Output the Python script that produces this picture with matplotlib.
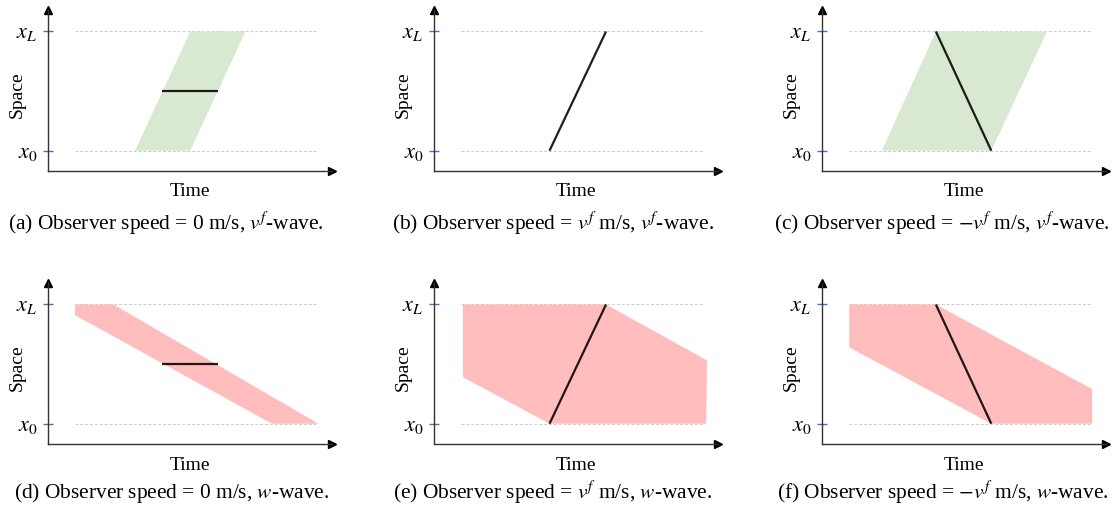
import numpy as np
import matplotlib
matplotlib.use('Agg')
import matplotlib.pyplot as plt

plt.rcParams['font.family'] = 'serif'
plt.rcParams['font.serif'] = ['Liberation Serif', 'DejaVu Serif']
plt.rcParams['mathtext.fontset'] = 'stix'

# space axis ticks
space_ticks = [0, 1]
space_labels = ['$x_0$', '$x_L$']

# observer trajectories (time, space)
obs_a_t = [4.22, 6.28]
obs_a_s = [0.5, 0.5]
obs_b_t = [4.27, 6.36]
obs_b_s = [0, 1]
obs_c_t = [4.21, 6.26]
obs_c_s = [1, 0]
obs_d_t = [4.21, 6.28]
obs_d_s = [0.5, 0.5]
obs_e_t = [4.27, 6.36]
obs_e_s = [0, 1]
obs_f_t = [4.21, 6.26]
obs_f_s = [1, 0]

# shaded regions, polygon corners (time, space)
zone_a_t = [3.22, 5.26, 7.30, 5.26]
zone_a_s = [0, 0, 1, 1]
zone_c_t = [2.21, 6.26, 8.32, 4.21]
zone_c_s = [0, 0, 1, 1]
zone_d_t = [1.0, 2.42, 10.0, 8.28, 1.0]
zone_d_s = [1, 1, 0, 0, 0.91]
zone_e_t = [1.07, 6.36, 10.1, 10.06, 4.27, 1.07]
zone_e_s = [1, 1, 0.53, 0, 0, 0.39]
zone_f_t = [1.01, 4.21, 9.99, 9.99, 6.26, 1.01]
zone_f_s = [1, 1, 0.29, 0, 0, 0.64]

captions = ['(a) Observer speed = 0 m/s, $v^f$-wave.',
            '(b) Observer speed = $v^f$ m/s, $v^f$-wave.',
            '(c) Observer speed = $-v^f$ m/s, $v^f$-wave.',
            '(d) Observer speed = 0 m/s, $w$-wave.',
            '(e) Observer speed = $v^f$ m/s, $w$-wave.',
            '(f) Observer speed = $-v^f$ m/s, $w$-wave.']

green = '#d9e8d1'
pink = '#ffbdbd'

panels = [
    (obs_a_t, obs_a_s, zone_a_t, zone_a_s, green),
    (obs_b_t, obs_b_s, None, None, None),
    (obs_c_t, obs_c_s, zone_c_t, zone_c_s, green),
    (obs_d_t, obs_d_s, zone_d_t, zone_d_s, pink),
    (obs_e_t, obs_e_s, zone_e_t, zone_e_s, pink),
    (obs_f_t, obs_f_s, zone_f_t, zone_f_s, pink),
]

W, H = 1117, 512
fig = plt.figure(figsize=(W / 100, H / 100), dpi=100)

ax_left = [48, 434, 822]
ax_bottom = [171, 444]
ax_w, ax_h = 284, 161
cap_x = [166, 553, 942, 172, 553, 943]
cap_y = [224, 493]

for i, (ot, os_, zt, zs, col) in enumerate(panels):
    r, c = divmod(i, 3)
    ax = fig.add_axes([ax_left[c] / W, (H - ax_bottom[r]) / H,
                       ax_w / W, ax_h / H])
    ax.set_xlim(0, 10.5)
    ax.set_ylim(-0.17, 1.18)

    if zt is not None:
        ax.fill(zt, zs, color=col, lw=0, zorder=1)
    ax.hlines(space_ticks, 1, 10, colors='#cccccc', linestyles=(0, (3, 2)),
              lw=0.7, zorder=0)
    ax.plot(ot, os_, color='black', alpha=0.88, lw=1.6, zorder=3,
            solid_capstyle='butt')

    for sp in ['top', 'right']:
        ax.spines[sp].set_visible(False)
    for sp in ['left', 'bottom']:
        ax.spines[sp].set_color('#333333')
        ax.spines[sp].set_linewidth(1.0)
    ax.plot(1, 0, '>', color='black', ms=6, transform=ax.transAxes,
            clip_on=False)
    ax.plot(0, 1, '^', color='black', ms=6, transform=ax.transAxes,
            clip_on=False)

    ax.set_xticks([])
    ax.set_yticks(space_ticks)
    ax.set_yticklabels(space_labels, fontsize=16)
    ax.tick_params(axis='y', direction='inout', length=7, width=1.0,
                   color='#4472c4', pad=4)
    ax.set_xlabel('Time', fontsize=14, labelpad=9)
    ax.set_ylabel('Space', fontsize=14)
    ax.yaxis.set_label_coords(-0.08, 0.475)

    fig.text(cap_x[i] / W, 1 - cap_y[r] / H, captions[i], fontsize=15.4,
             ha='center', va='center')

fig.savefig('out.png', dpi=100)
